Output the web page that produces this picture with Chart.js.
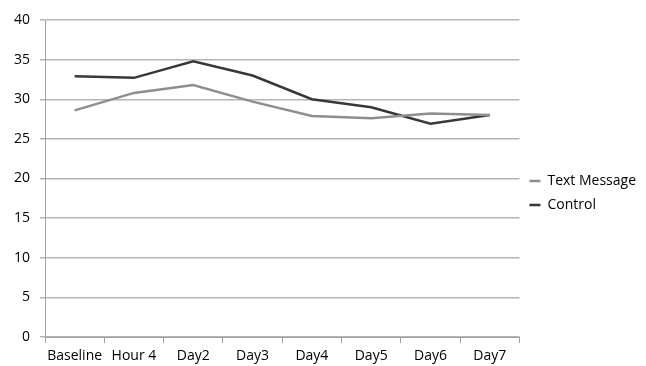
<!DOCTYPE html>
<html>
<head>
<meta charset="utf-8">
<script src="https://cdn.jsdelivr.net/npm/chart.js@4"></script>
<style>
  html, body { margin: 0; padding: 0; background: #fff; }
  #wrap { width: 646px; height: 366px; }
</style>
</head>
<body>
<div id="wrap"><canvas id="chart" width="646" height="366"></canvas></div>
<script>
// categories and series
const categories = ["Baseline", "Hour 4", "Day2", "Day3", "Day4", "Day5", "Day6", "Day7"];
const textMessage = [28.6, 30.8, 31.8, 29.7, 27.9, 27.6, 28.2, 28.0];
const control = [32.9, 32.7, 34.8, 33.0, 30.0, 29.0, 26.9, 28.0];
const yTicks = [0, 5, 10, 15, 20, 25, 30, 35, 40];

const ctx = document.getElementById("chart").getContext("2d");
Chart.defaults.font.family = "'Open Sans', sans-serif";
Chart.defaults.font.size = 13;
Chart.defaults.color = "#000";

new Chart(ctx, {
    type: "line",
    data: {
        labels: categories,
        datasets: [
            {
                label: "Text Message",
                data: textMessage,
                borderColor: "#8e8e8e",
                backgroundColor: "#8e8e8e",
                borderWidth: 2.5,
                pointRadius: 0,
                tension: 0
            },
            {
                label: "Control",
                data: control,
                borderColor: "#383838",
                backgroundColor: "#383838",
                borderWidth: 2.5,
                pointRadius: 0,
                tension: 0
            }
        ]
    },
    options: {
        responsive: false,
        animation: false,
        layout: { padding: { top: 20, right: 0, left: 0, bottom: 0 } },
        plugins: {
            tooltip: { enabled: false },
            legend: {
                position: "right",
                align: "center",
                labels: {
                    usePointStyle: true,
                    pointStyle: "line",
                    pointStyleWidth: 11,
                    boxHeight: 10,
                    padding: 10,
                    font: { size: 14 }
                }
            }
        },
        scales: {
            x: {
                offset: true,
                grid: {
                    offset: true,
                    drawOnChartArea: false,
                    tickLength: 6,
                    color: "#a0a0a0"
                },
                border: { color: "#a0a0a0", width: 1 },
                ticks: { padding: 5, maxRotation: 0, autoSkip: false, font: { size: 14 } },
                afterFit: s => { s.height = 29; }
            },
            y: {
                min: 0,
                max: 40,
                afterBuildTicks: s => { s.ticks = yTicks.map(v => ({ value: v })); },
                grid: { color: "#b4b4b4", lineWidth: 1.5, tickLength: 5 },
                border: { color: "#a0a0a0", width: 1 },
                ticks: { padding: 10, font: { size: 14 } },
                afterFit: s => { s.width = 45; }
            }
        }
    }
});
</script>
</body>
</html>
